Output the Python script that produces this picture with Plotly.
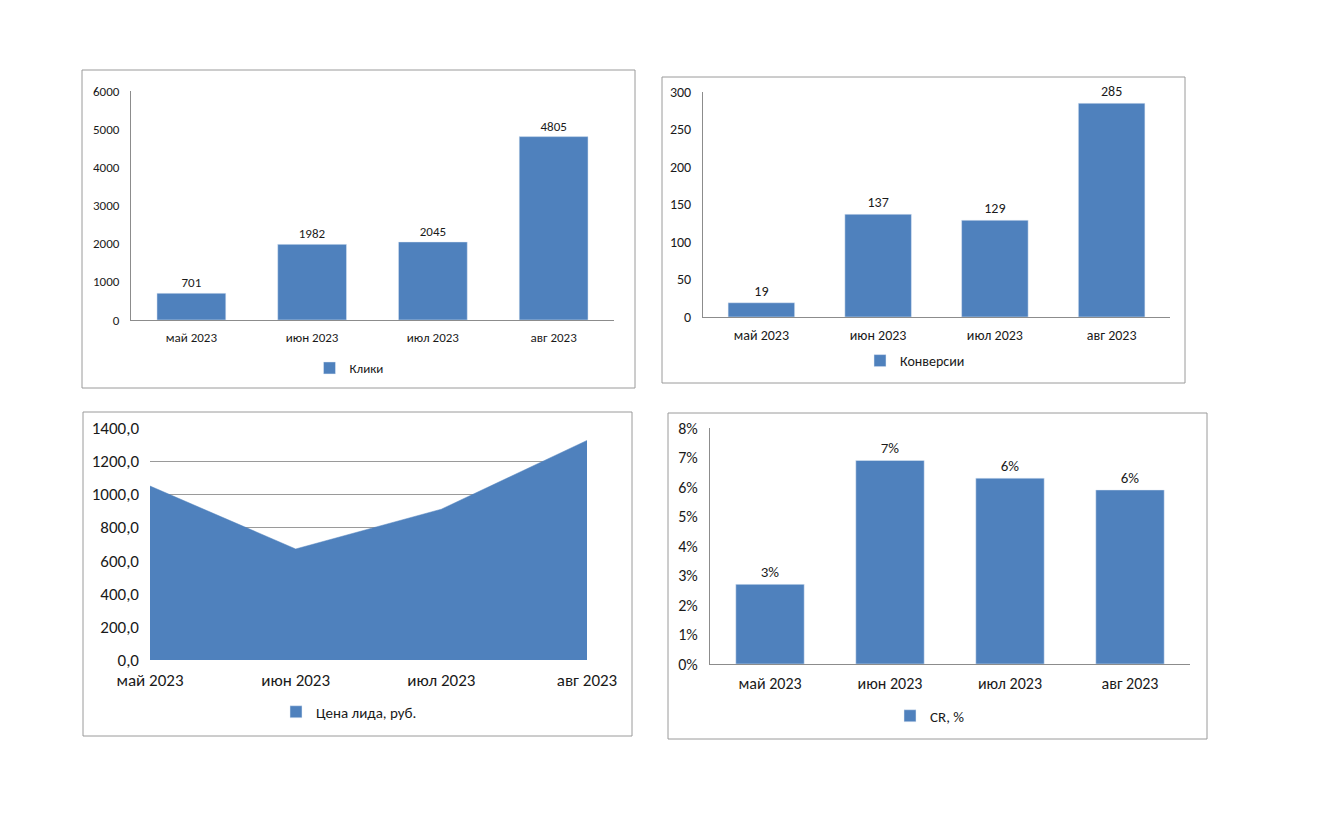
import plotly.graph_objects as go

W, H = 1340, 825
PAD = 8  # default body margin of the html page
FW, FH = W - 2 * PAD, H - 2 * PAD

months = ["май 2023", "июн 2023", "июл 2023", "авг 2023"]
clicks = [701, 1982, 2045, 4805]
conversions = [19, 137, 129, 285]
lead_price = [1050, 670, 910, 1325]
cr = [0.027, 0.069, 0.063, 0.059]

BLUE = "#4F81BD"
TXT = "#1a1a1a"
AXIS = "#8c8c8c"
FONT = "Carlito, Lato, Liberation Sans, Arial, sans-serif"


def px_x(x):
    # page pixel -> paper fraction
    return (x - PAD) / FW


def px_y(y):
    return 1 - (y - PAD) / FH


fig = go.Figure()

# panel boxes (pixel coords of the page)
boxes = [(82, 70, 635, 388), (662, 77, 1185, 383), (83, 412, 632, 736), (668, 413, 1207, 739)]
for x0, y0, x1, y1 in boxes:
    fig.add_shape(type="rect", xref="paper", yref="paper",
                  x0=px_x(x0), x1=px_x(x1), y0=px_y(y1), y1=px_y(y0),
                  line=dict(color="#9a9a9a", width=1), fillcolor="rgba(0,0,0,0)")

# Клики
fig.add_trace(go.Bar(x=months, y=clicks, name="Клики", marker_color=BLUE,
                     text=clicks, textposition="outside", cliponaxis=False,
                     textfont=dict(size=13, color=TXT),
                     xaxis="x", yaxis="y", legend="legend"))
# Конверсии
fig.add_trace(go.Bar(x=months, y=conversions, name="Конверсии", marker_color=BLUE,
                     text=conversions, textposition="outside", cliponaxis=False,
                     textfont=dict(size=14, color=TXT),
                     xaxis="x2", yaxis="y2", legend="legend2"))
# Цена лида (area) + square legend key
fig.add_trace(go.Scatter(x=months, y=lead_price, name="Цена лида, руб.", mode="lines",
                         fill="tozeroy", fillcolor=BLUE, line=dict(color=BLUE, width=0.5),
                         showlegend=False, xaxis="x3", yaxis="y3"))
fig.add_trace(go.Bar(x=months, y=[None] * len(months), name="Цена лида, руб.",
                     marker_color=BLUE, xaxis="x3", yaxis="y3", legend="legend3"))
# CR
fig.add_trace(go.Bar(x=months, y=cr, name="CR, %", marker_color=BLUE,
                     texttemplate="%{y:.0%}", textposition="outside", cliponaxis=False,
                     textfont=dict(size=15, color=TXT),
                     xaxis="x4", yaxis="y4", legend="legend4"))

bar_x = dict(type="category", showline=True, linecolor=AXIS, showgrid=False,
             ticks="", zeroline=False, ticklabelstandoff=5)
bar_y = dict(showline=True, linecolor=AXIS, showgrid=False, ticks="", zeroline=False,
             ticklabelstandoff=8)
leg = dict(xanchor="center", yanchor="middle", bgcolor="rgba(0,0,0,0)", itemwidth=30)

fig.update_layout(
    width=FW, height=FH,
    margin=dict(l=0, r=0, t=0, b=0, autoexpand=False),
    paper_bgcolor="white", plot_bgcolor="white",
    font=dict(family=FONT, color=TXT, size=13),
    separators=", ",
    bargap=0.43,
    showlegend=True,
    xaxis=dict(bar_x, domain=[px_x(131), px_x(614)], anchor="y",
               tickfont=dict(size=13)),
    yaxis=dict(bar_y, domain=[px_y(320), px_y(91)], anchor="x",
               range=[0, 6000], dtick=1000, tickformat="d", tickfont=dict(size=13)),
    xaxis2=dict(bar_x, domain=[px_x(703), px_x(1170)], anchor="y2",
                tickfont=dict(size=14)),
    yaxis2=dict(bar_y, domain=[px_y(317), px_y(92)], anchor="x2",
                range=[0, 300], dtick=50, tickfont=dict(size=14)),
    xaxis3=dict(type="category", domain=[px_x(150), px_x(587)], anchor="y3",
                range=[0, 3], showline=False, showgrid=False, zeroline=False,
                ticks="", tickfont=dict(size=17), ticklabelstandoff=8),
    yaxis3=dict(domain=[px_y(660), px_y(428)], anchor="x3", range=[0, 1400], dtick=200,
                tickformat=".1f", showgrid=True, gridcolor="#9a9a9a", showline=False,
                zeroline=False, ticks="", tickfont=dict(size=17), ticklabelstandoff=10),
    xaxis4=dict(bar_x, domain=[px_x(710), px_x(1190)], anchor="y4",
                tickfont=dict(size=16)),
    yaxis4=dict(bar_y, domain=[px_y(664), px_y(428)], anchor="x4",
                range=[0, 0.08], dtick=0.01, tickformat=".0%", tickfont=dict(size=16)),
    legend=dict(leg, x=px_x(349), y=px_y(368), font=dict(size=13)),
    legend2=dict(leg, x=px_x(915), y=px_y(361), font=dict(size=14)),
    legend3=dict(leg, x=px_x(349), y=px_y(712), font=dict(size=15)),
    legend4=dict(leg, x=px_x(930), y=px_y(716), font=dict(size=15)),
)

fig.write_html("out.html")
